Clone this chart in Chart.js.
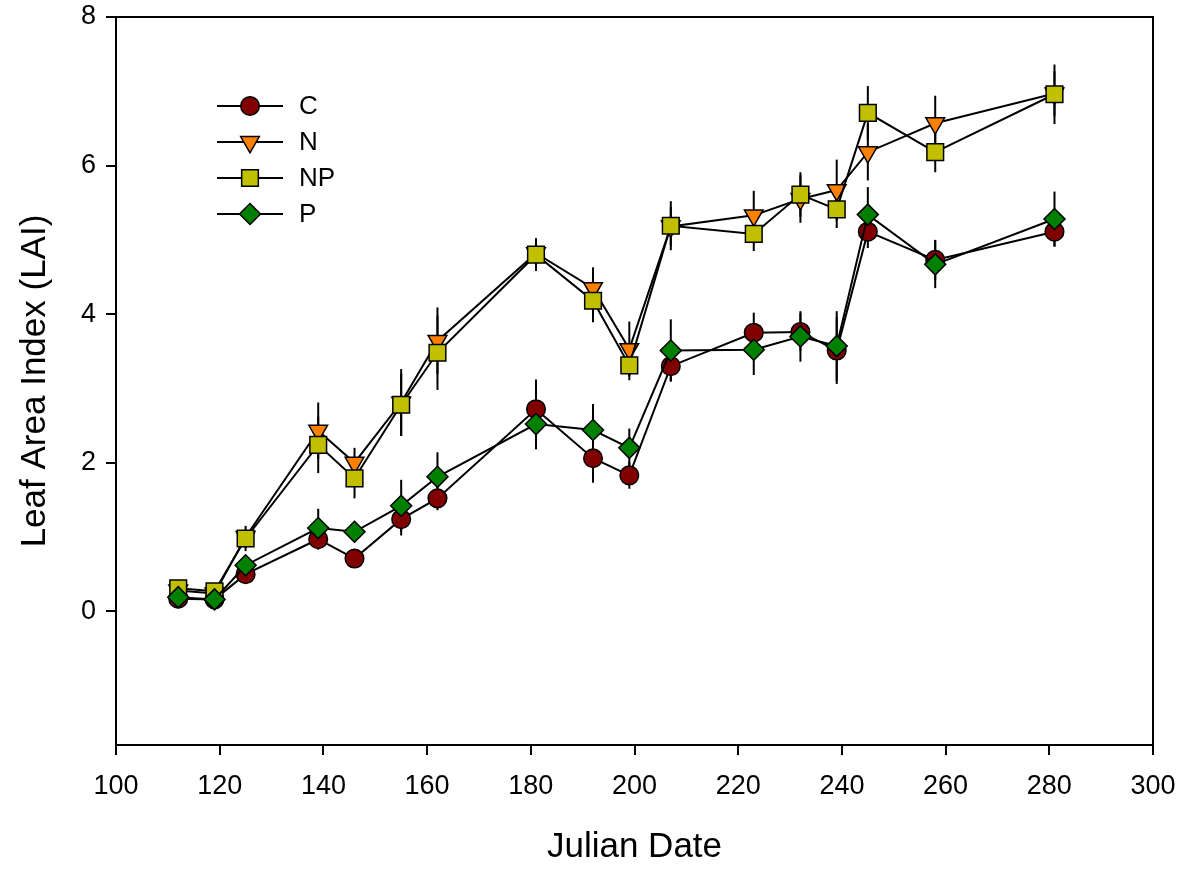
<!DOCTYPE html>
<html>
<head>
<meta charset="utf-8">
<script src="https://cdn.jsdelivr.net/npm/chart.js@4/dist/chart.umd.min.js"></script>
<style>
  body { margin: 0; background: #fff; }
  #wrap { width: 1190px; height: 870px; position: relative; }
</style>
</head>
<body>
<div id="wrap"><canvas id="lai"></canvas></div>
<script>
// Leaf area index by Julian date, four treatments

const julianDates = [112, 119, 125, 139, 146, 155, 162, 181, 192, 199, 207, 223, 232, 239, 245, 258, 281];

const laiC = [0.17, 0.16, 0.50, 0.97, 0.71, 1.24, 1.52, 2.72, 2.06, 1.83, 3.30, 3.75, 3.76, 3.51, 5.11, 4.73, 5.11];
const errC = [0.05, 0.04, 0.08, 0.14, 0.06, 0.22, 0.16, 0.40, 0.33, 0.18, 0.20, 0.27, 0.25, 0.45, 0.22, 0.27, 0.20];

const laiN = [0.28, 0.24, 1.00, 2.43, 2.00, 2.81, 3.64, 4.82, 4.35, 3.53, 5.18, 5.33, 5.55, 5.67, 6.18, 6.57, 6.97];
const errN = [0.05, 0.04, 0.08, 0.38, 0.20, 0.45, 0.45, 0.20, 0.28, 0.37, 0.26, 0.33, 0.32, 0.41, 0.38, 0.37, 0.30];

const laiNP = [0.31, 0.27, 0.98, 2.24, 1.79, 2.78, 3.48, 4.80, 4.18, 3.31, 5.19, 5.08, 5.61, 5.41, 6.71, 6.18, 6.96];
const errNP = [0.04, 0.04, 0.17, 0.38, 0.27, 0.42, 0.50, 0.22, 0.29, 0.20, 0.33, 0.23, 0.30, 0.25, 0.36, 0.27, 0.40];

const laiP = [0.19, 0.16, 0.62, 1.12, 1.07, 1.42, 1.81, 2.52, 2.44, 2.20, 3.51, 3.52, 3.70, 3.57, 5.34, 4.67, 5.28];
const errP = [0.04, 0.04, 0.08, 0.26, 0.05, 0.35, 0.33, 0.34, 0.35, 0.26, 0.42, 0.34, 0.34, 0.47, 0.37, 0.32, 0.37];

const yTicks = [0, 2, 4, 6, 8];

const FONT = "'Liberation Sans', Arial, Helvetica, sans-serif";

function points(values) {
  return julianDates.map((d, i) => ({ x: d, y: values[i] }));
}

// series in legend order; drawn so that P ends up on top
const series = [
  { label: 'C', values: laiC, errors: errC, color: '#800000', style: 'circle', radius: 9.3, rotation: 0 },
  { label: 'N', values: laiN, errors: errN, color: '#ff8000', style: 'triangle', radius: 10.8, rotation: 180 },
  { label: 'NP', values: laiNP, errors: errNP, color: '#c0c000', style: 'rect', radius: 11.8, rotation: 0 },
  { label: 'P', values: laiP, errors: errP, color: '#008000', style: 'rectRot', radius: 10.5, rotation: 0 },
];

// dataset 0 is painted last, so reverse the list
const datasets = series.slice().reverse().map((s) => ({
  label: s.label,
  data: points(s.values),
  borderColor: '#000',
  borderWidth: 2,
  tension: 0,
  pointStyle: s.style,
  pointRotation: s.rotation,
  pointRadius: s.radius,
  pointHoverRadius: s.radius,
  pointBackgroundColor: s.color,
  pointBorderColor: '#000',
  pointBorderWidth: 1.5,
  errors: s.errors,
}));

// vertical error bars, under lines and markers
const errorBars = {
  id: 'errorBars',
  beforeDatasetsDraw(chart) {
    const { ctx, scales: { x, y } } = chart;
    ctx.save();
    ctx.strokeStyle = '#000';
    ctx.lineWidth = 2;
    chart.data.datasets.forEach((ds) => {
      ds.data.forEach((p, i) => {
        const e = ds.errors[i];
        const px = x.getPixelForValue(p.x);
        ctx.beginPath();
        ctx.moveTo(px, y.getPixelForValue(p.y - e));
        ctx.lineTo(px, y.getPixelForValue(p.y + e));
        ctx.stroke();
      });
    });
    ctx.restore();
  },
};

// closed box round the plot
const frame = {
  id: 'frame',
  afterDatasetsDraw(chart) {
    const { ctx, chartArea: a } = chart;
    ctx.save();
    ctx.strokeStyle = '#000';
    ctx.lineWidth = 2;
    ctx.strokeRect(a.left, a.top, a.right - a.left, a.bottom - a.top);
    ctx.restore();
  },
};

// legend inside the plot: line, marker, label
const lineLegend = {
  id: 'lineLegend',
  afterDraw(chart) {
    const { ctx, chartArea: a } = chart;
    const x0 = a.left + 101;
    const y0 = a.top + 89;
    ctx.save();
    ctx.font = '26px ' + FONT;
    ctx.textBaseline = 'middle';
    series.forEach((s, i) => {
      const yy = y0 + i * 36;
      ctx.strokeStyle = '#000';
      ctx.lineWidth = 2;
      ctx.beginPath();
      ctx.moveTo(x0, yy);
      ctx.lineTo(x0 + 66, yy);
      ctx.stroke();
      ctx.fillStyle = s.color;
      ctx.lineWidth = 1.5;
      Chart.helpers.drawPoint(ctx, {
        pointStyle: s.style,
        rotation: s.rotation,
        radius: s.radius,
        borderWidth: 1.5,
      }, x0 + 33, yy);
      ctx.fillStyle = '#000';
      ctx.fillText(s.label, x0 + 82, yy + 1);
    });
    ctx.restore();
  },
};

new Chart(document.getElementById('lai'), {
  type: 'line',
  data: { datasets },
  options: {
    responsive: true,
    maintainAspectRatio: false,
    animation: false,
    events: [],
    layout: { padding: { top: 17, right: 37, left: 0, bottom: 0 } },
    plugins: {
      legend: { display: false },
      tooltip: { enabled: false },
    },
    scales: {
      x: {
        type: 'linear',
        min: 100,
        max: 300,
        ticks: { stepSize: 20, color: '#000', padding: 15, font: { family: FONT, size: 27 } },
        grid: { drawOnChartArea: false, drawTicks: true, tickLength: 10, color: '#000', lineWidth: 2 },
        border: { display: true, color: '#000', width: 2 },
        title: {
          display: true,
          text: 'Julian Date',
          color: '#000',
          font: { family: FONT, size: 35 },
          padding: { top: 0, bottom: 2 },
        },
        afterFit(scale) {
          scale.height = 125;
          scale.paddingLeft = 0;
          scale.paddingRight = 0;
        },
      },
      y: {
        type: 'linear',
        min: -1.8,
        max: 8,
        afterBuildTicks(scale) { scale.ticks = yTicks.map((v) => ({ value: v })); },
        ticks: { color: '#000', padding: 10, font: { family: FONT, size: 27 } },
        grid: { drawOnChartArea: false, drawTicks: true, tickLength: 10, color: '#000', lineWidth: 2 },
        border: { display: true, color: '#000', width: 2 },
        title: {
          display: true,
          text: 'Leaf Area Index (LAI)',
          color: '#000',
          font: { family: FONT, size: 35 },
          padding: { top: 14, bottom: 0 },
        },
        afterFit(scale) {
          scale.width = 116;
          scale.paddingTop = 0;
          scale.paddingBottom = 0;
        },
      },
    },
  },
  plugins: [errorBars, frame, lineLegend],
});
</script>
</body>
</html>
